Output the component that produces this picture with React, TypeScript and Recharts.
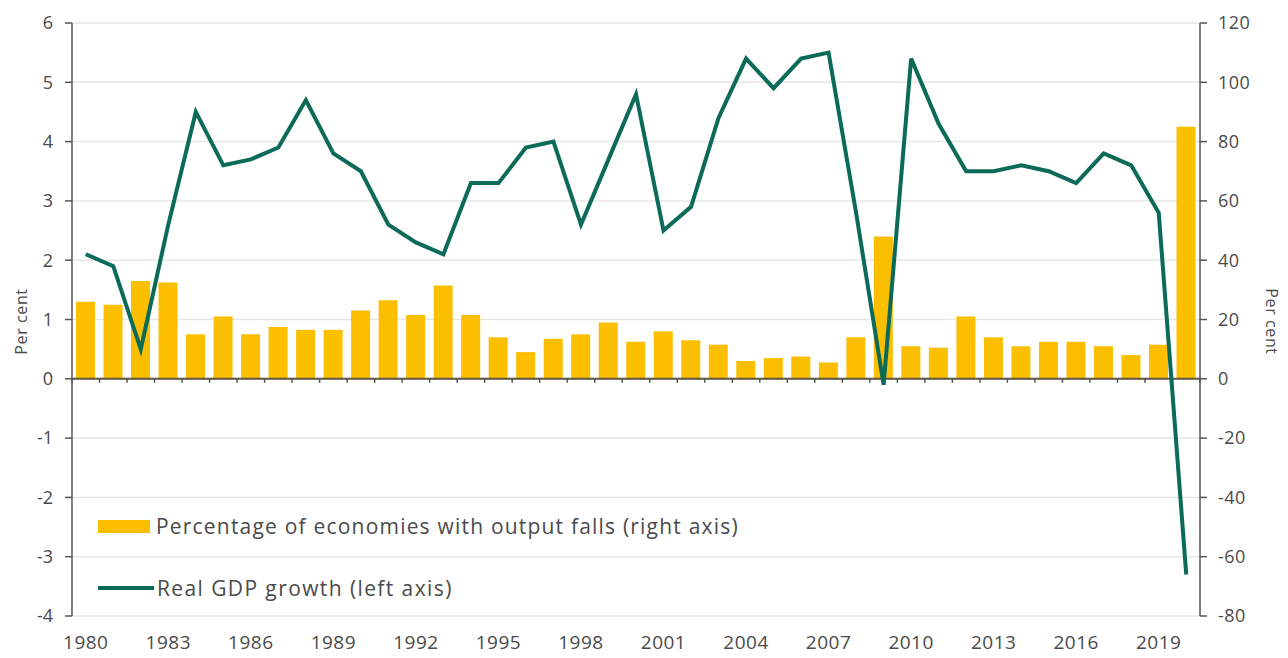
import React from 'react';
import {
  ComposedChart,
  Bar,
  Line,
  XAxis,
  YAxis,
  CartesianGrid,
  ReferenceLine,
  Label,
} from 'recharts';

const years: string[] = [
  '1980', '1981', '1982', '1983', '1984', '1985', '1986', '1987', '1988', '1989',
  '1990', '1991', '1992', '1993', '1994', '1995', '1996', '1997', '1998', '1999',
  '2000', '2001', '2002', '2003', '2004', '2005', '2006', '2007', '2008', '2009',
  '2010', '2011', '2012', '2013', '2014', '2015', '2016', '2017', '2018', '2019',
  '2020',
];

// Real GDP growth, per cent (left axis)
const gdpGrowth: number[] = [
  2.1, 1.9, 0.5, 2.6, 4.5, 3.6, 3.7, 3.9, 4.7, 3.8,
  3.5, 2.6, 2.3, 2.1, 3.3, 3.3, 3.9, 4.0, 2.6, 3.7,
  4.8, 2.5, 2.9, 4.4, 5.4, 4.9, 5.4, 5.5, 2.8, -0.1,
  5.4, 4.3, 3.5, 3.5, 3.6, 3.5, 3.3, 3.8, 3.6, 2.8,
  -3.3,
];

// Percentage of economies with output falls (right axis)
const outputFalls: number[] = [
  26, 25, 33, 32.5, 15, 21, 15, 17.5, 16.5, 16.5,
  23, 26.5, 21.5, 31.5, 21.5, 14, 9, 13.5, 15, 19,
  12.5, 16, 13, 11.5, 6, 7, 7.5, 5.5, 14, 48,
  11, 10.5, 21, 14, 11, 12.5, 12.5, 11, 8, 11.5,
  85,
];

const leftTicks: number[] = [-4, -3, -2, -1, 0, 1, 2, 3, 4, 5, 6];
const rightTicks: number[] = [-80, -60, -40, -20, 0, 20, 40, 60, 80, 100, 120];

const barLabel = 'Percentage of economies with output falls (right axis)';
const lineLabel = 'Real GDP growth (left axis)';
const axisTitle = 'Per cent';

const BAR_COLOR = '#FBBF00';
const LINE_COLOR = '#0B6A58';
const AXIS_COLOR = '#555555';
const TEXT_COLOR = '#4a4a4a';
const GRID_COLOR = '#e6e6e6';
const FONT = '"Open Sans", "Noto Sans", sans-serif';

const data = years.map((y, i) => ({
  year: y,
  gdp: gdpGrowth[i],
  falls: outputFalls[i],
}));

const ZeroLine = (props: any) => {
  const { x1, y1, x2, y2 } = props;
  const n = years.length;
  const step = (x2 - x1) / n;
  const marks = [];
  for (let i = 0; i <= n; i++) {
    const x = x1 + i * step;
    marks.push(
      <line key={i} x1={x} x2={x} y1={y1} y2={y1 + 4} stroke={AXIS_COLOR} strokeWidth={1.5} />
    );
  }
  return (
    <g>
      <line x1={x1} y1={y1} x2={x2} y2={y2} stroke="#5e5440" strokeWidth={2} />
      {marks}
    </g>
  );
};

const AxisTitle = (side: 'left' | 'right') => (props: any) => {
  const vb = props.viewBox || {};
  const cy = vb.y + vb.height / 2 + 2;
  const cx = side === 'left' ? vb.x + 21 : vb.x + vb.width - 16;
  const angle = side === 'left' ? -90 : 90;
  return (
    <text
      x={cx}
      y={cy}
      transform={`rotate(${angle}, ${cx}, ${cy})`}
      textAnchor="middle"
      dominantBaseline="central"
      fontSize={16}
      letterSpacing={0.6}
      fill={TEXT_COLOR}
      fontFamily={FONT}
    >
      {axisTitle}
    </text>
  );
};

const LegendOverlay = () => (
  <div
    style={{
      position: 'absolute',
      left: 98,
      top: 511,
      fontFamily: FONT,
      fontSize: 21,
      color: TEXT_COLOR,
      lineHeight: '24px',
      pointerEvents: 'none',
      whiteSpace: 'nowrap',
    }}
  >
    <div style={{ display: 'flex', alignItems: 'center', height: 30 }}>
      <span style={{ display: 'inline-block', width: 52, height: 13, background: BAR_COLOR, marginRight: 6 }} />
      <span style={{ letterSpacing: '1.2px' }}>{barLabel}</span>
    </div>
    <div style={{ display: 'flex', alignItems: 'center', height: 30, marginTop: 32 }}>
      <span style={{ display: 'inline-block', width: 56, height: 4, background: LINE_COLOR, marginRight: 3 }} />
      <span style={{ letterSpacing: '1.4px' }}>{lineLabel}</span>
    </div>
  </div>
);

export default function App() {
  return (
    <div style={{ position: 'absolute', left: 0, top: 0, width: 1288, height: 658, background: '#fff' }}>
      <ComposedChart
        width={1288}
        height={658}
        data={data}
        margin={{ top: 23, right: 0, bottom: 12, left: 0 }}
        style={{ fontFamily: FONT }}
      >
        <CartesianGrid
          yAxisId="left"
          vertical={false}
          stroke={GRID_COLOR}
          strokeWidth={1.5}
        />
        <XAxis
          dataKey="year"
          type="category"
          interval={2}
          axisLine={false}
          tickLine={false}
          tickSize={0}
          tickMargin={20}
          height={30}
          tick={{ fill: TEXT_COLOR, fontSize: 19, fontFamily: FONT, letterSpacing: 0.5 }}
        />
        <YAxis
          yAxisId="left"
          orientation="left"
          domain={[-4, 6]}
          ticks={leftTicks}
          interval={0}
          width={72}
          axisLine={{ stroke: AXIS_COLOR, strokeWidth: 1.5 }}
          tickLine={{ stroke: AXIS_COLOR, strokeWidth: 1.5 }}
          tickSize={7}
          tickMargin={12}
          tick={{ fill: TEXT_COLOR, fontSize: 18, fontFamily: FONT }}
        >
          <Label content={AxisTitle('left')} />
        </YAxis>
        <YAxis
          yAxisId="right"
          orientation="right"
          domain={[-80, 120]}
          ticks={rightTicks}
          interval={0}
          width={88}
          axisLine={{ stroke: AXIS_COLOR, strokeWidth: 1.5 }}
          tickLine={{ stroke: AXIS_COLOR, strokeWidth: 1.5 }}
          tickSize={7}
          tickMargin={11}
          tick={{ fill: TEXT_COLOR, fontSize: 18, fontFamily: FONT, letterSpacing: 0.5, textAnchor: 'start' }}
        >
          <Label content={AxisTitle('right')} />
        </YAxis>
        <Bar
          yAxisId="right"
          dataKey="falls"
          fill={BAR_COLOR}
          barSize={19}
          isAnimationActive={false}
        />
        <ReferenceLine yAxisId="left" y={0} shape={ZeroLine} />
        <Line
          yAxisId="left"
          type="linear"
          dataKey="gdp"
          stroke={LINE_COLOR}
          strokeWidth={4}
          dot={false}
          activeDot={false}
          strokeLinejoin="miter"
          isAnimationActive={false}
        />
      </ComposedChart>
      <LegendOverlay />
    </div>
  );
}
